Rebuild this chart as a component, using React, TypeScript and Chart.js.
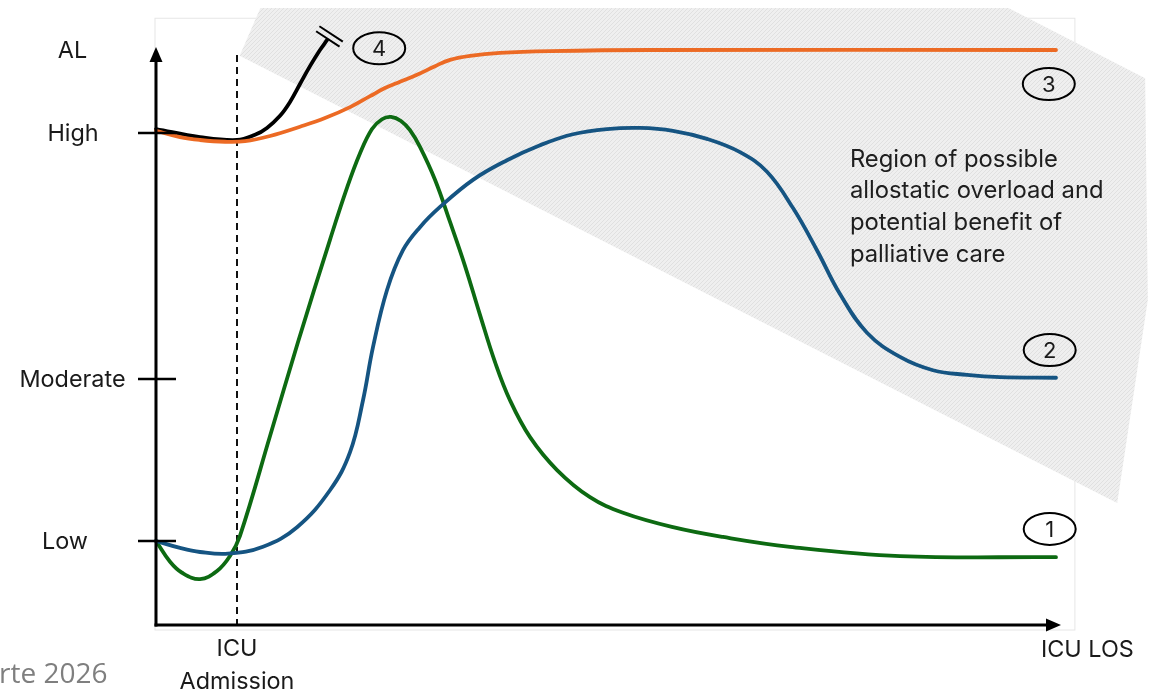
import React, { useEffect, useRef } from 'react';
import { Chart, registerables } from 'chart.js';

Chart.register(...registerables);

// ---- data (time since ICU admission in % of ICU LOS, level of allostatic load in arbitrary units) ----
const greenT = [0, 1.56, 2.89, 4.89, 6.78, 8.22, 9.33, 12.67, 15.78, 19.33, 21.22, 22.67, 24.0, 25.11, 26.11, 27.22, 28.22, 29.33, 31.0, 32.67, 34.33, 36.0, 37.67, 39.33, 41.56, 44.56, 48.22, 51.89, 57.44, 63.0, 70.44, 82.67, 100];
const greenLevel = [14.9, 11.3, 9.4, 8.3, 9.7, 12.3, 15.8, 33.1, 49.4, 67.1, 76.1, 82.1, 86.3, 88.0, 88.4, 87.7, 86.1, 83.2, 77.5, 70.2, 62.6, 54.1, 45.9, 39.3, 32.9, 27.2, 22.5, 19.8, 17.3, 15.6, 13.9, 12.3, 12.1];

const blueT = [0, 2.67, 4.89, 8.0, 11.89, 15.67, 19.33, 21.56, 23.0, 24.11, 25.67, 27.44, 29.33, 31.56, 35.22, 39.0, 42.67, 46.33, 50.11, 53.78, 57.44, 61.22, 64.89, 67.89, 70.78, 73.44, 76.0, 79.0, 82.67, 86.33, 90.11, 93.78, 100];
const blueLevel = [14.9, 13.7, 13.0, 12.7, 13.9, 17.3, 23.7, 30.3, 39.3, 48.5, 58.4, 65.3, 69.3, 72.8, 77.5, 80.9, 83.5, 85.4, 86.3, 86.5, 86.0, 84.6, 82.3, 78.9, 72.6, 65.3, 57.7, 51.0, 46.8, 44.5, 43.7, 43.3, 43.2];

const orangeT = [0, 2.67, 4.89, 7.67, 9.89, 12.67, 16.0, 18.78, 21.56, 23.78, 25.44, 27.11, 29.0, 31.0, 32.67, 34.89, 38.22, 43.78, 54.89, 100];
const orangeLevel = [86.0, 84.9, 84.4, 84.1, 84.2, 85.1, 86.7, 88.2, 90.1, 92.0, 93.4, 94.5, 95.7, 97.2, 98.3, 99.0, 99.5, 99.8, 100, 100];

const blackT = [0, 4.89, 9.0, 11.0, 12.33, 13.78, 14.89, 16.0, 17.11, 18.22, 19.0];
const blackLevel = [86.3, 84.9, 84.4, 85.3, 86.5, 88.6, 91.0, 94.1, 97.2, 100, 101.7];

// y-axis categories
const levelNames = ['Low', 'Moderate', 'High', 'AL'];
const levelValues = [14.9, 43.0, 85.6, 100];

// x-axis
const admissionT = 9.0;
const admissionLabel = ['ICU', 'Admission'];
const xEndLabel = 'ICU LOS';
const sourceNote = 'rte 2026';

// curve tags
const tagNames = ['1', '2', '3', '4'];
const tagT = [99.3, 99.3, 99.2, 24.8];
const tagLevel = [17.0, 48.0, 94.1, 100.3];

// shaded region (data units)
const regionT = [11.6, 94.7, 109.9, 110.2, 106.8, 9.3];
const regionLevel = [107.3, 107.3, 95.1, 56.7, 21.5, 99.0];
const regionText = ['Region of possible', 'allostatic overload and', 'potential benefit of', 'palliative care'];
const regionTextT = 77.1;
const regionTextLevel = [79.7, 74.3, 68.8, 63.3];

const GREEN = '#0d6a12';
const BLUE = '#155482';
const ORANGE = '#ec6a24';
const FONT = "Inter, 'Open Sans', 'Liberation Sans', sans-serif";

function makeSeries(ts: number[], ls: number[]) {
  return ts.map((t, i) => ({ x: t, y: ls[i] }));
}

function makePattern(ctx: CanvasRenderingContext2D) {
  const c = document.createElement('canvas');
  c.width = 4;
  c.height = 4;
  const p = c.getContext('2d')!;
  p.fillStyle = '#efefef';
  p.fillRect(0, 0, 4, 4);
  p.strokeStyle = '#dcdcdc';
  p.lineWidth = 0.8;
  p.beginPath();
  p.moveTo(-1, 5);
  p.lineTo(5, -1);
  p.moveTo(-1, 1);
  p.lineTo(1, -1);
  p.moveTo(3, 5);
  p.lineTo(5, 3);
  p.stroke();
  return ctx.createPattern(c, 'repeat');
}

const decorPlugin = {
  id: 'decor',
  beforeDatasetsDraw(chart: any) {
    const ctx: CanvasRenderingContext2D = chart.ctx;
    const xs = chart.scales.x;
    const ys = chart.scales.y;
    const ca = chart.chartArea;
    ctx.save();
    ctx.fillStyle = '#ffffff';
    ctx.fillRect(0, 0, chart.width, chart.height);
    // faint frame
    ctx.strokeStyle = '#e6e6e6';
    ctx.lineWidth = 1;
    ctx.strokeRect(ca.left - 1, ys.getPixelForValue(105.5), xs.getPixelForValue(102.1) - ca.left + 1, ca.bottom + 3 - ys.getPixelForValue(105.5));
    // shaded region
    ctx.beginPath();
    regionT.forEach((t, i) => {
      const px = xs.getPixelForValue(t);
      const py = ys.getPixelForValue(regionLevel[i]);
      if (i === 0) ctx.moveTo(px, py);
      else ctx.lineTo(px, py);
    });
    ctx.closePath();
    ctx.fillStyle = makePattern(ctx) || '#efefef';
    ctx.fill();
    // region text
    ctx.fillStyle = '#1e1e1e';
    ctx.font = `23.8px ${FONT}`;
    ctx.textAlign = 'left';
    ctx.textBaseline = 'alphabetic';
    regionText.forEach((line, i) => {
      ctx.fillText(line, xs.getPixelForValue(regionTextT), ys.getPixelForValue(regionTextLevel[i]));
    });
    // dashed admission line
    const ax = xs.getPixelForValue(admissionT);
    ctx.strokeStyle = '#111111';
    ctx.lineWidth = 2;
    ctx.setLineDash([7, 5]);
    ctx.beginPath();
    ctx.moveTo(ax, ca.top + 5);
    ctx.lineTo(ax, ca.bottom + 3);
    ctx.stroke();
    ctx.setLineDash([]);
    ctx.restore();
  },
  afterDatasetsDraw(chart: any) {
    const ctx: CanvasRenderingContext2D = chart.ctx;
    const xs = chart.scales.x;
    const ys = chart.scales.y;
    const ca = chart.chartArea;
    ctx.save();
    ctx.strokeStyle = '#000000';
    ctx.fillStyle = '#000000';
    // y axis
    const ax0 = ca.left;
    const ay0 = ca.bottom - 2;
    ctx.lineWidth = 3;
    ctx.beginPath();
    ctx.moveTo(ax0, ay0 + 1.5);
    ctx.lineTo(ax0, ca.top + 10);
    ctx.stroke();
    ctx.beginPath();
    ctx.moveTo(ax0, ca.top - 3);
    ctx.lineTo(ax0 - 6.5, ca.top + 12);
    ctx.lineTo(ax0 + 6.5, ca.top + 12);
    ctx.closePath();
    ctx.fill();
    // x axis
    const xEnd = ca.right + 5;
    ctx.beginPath();
    ctx.moveTo(ax0 - 1.5, ay0);
    ctx.lineTo(xEnd - 10, ay0);
    ctx.stroke();
    ctx.beginPath();
    ctx.moveTo(xEnd, ay0);
    ctx.lineTo(xEnd - 15, ay0 - 6.5);
    ctx.lineTo(xEnd - 15, ay0 + 6.5);
    ctx.closePath();
    ctx.fill();
    // ticks + labels
    ctx.lineWidth = 2.5;
    const labelCenters = [65, 72.5, 73, 72.5];
    ctx.font = `23.4px ${FONT}`;
    ctx.textAlign = 'center';
    ctx.textBaseline = 'middle';
    ctx.fillStyle = '#1a1a1a';
    levelValues.forEach((v, i) => {
      const py = ys.getPixelForValue(v);
      if (levelNames[i] !== 'AL') {
        ctx.beginPath();
        ctx.moveTo(ax0 - 18, py);
        ctx.lineTo(ax0 + 20, py);
        ctx.stroke();
      }
      ctx.fillText(levelNames[i], labelCenters[i], py + 1);
    });
    // x labels
    const adx = xs.getPixelForValue(admissionT);
    ctx.fillText(admissionLabel[0], adx, ay0 + 24);
    ctx.fillText(admissionLabel[1], adx, ay0 + 57);
    ctx.textAlign = 'left';
    ctx.fillText(xEndLabel, ca.right - 15, ay0 + 25);
    // source note
    ctx.fillStyle = '#7f7f7f';
    ctx.font = `28px 'Open Sans', sans-serif`;
    ctx.fillText(sourceNote, -1, ay0 + 50);
    // break marks at end of curve 4
    const n = blackT.length;
    const ex = xs.getPixelForValue(blackT[n - 1]);
    const ey = ys.getPixelForValue(blackLevel[n - 1]);
    const px = xs.getPixelForValue(blackT[n - 3]);
    const py = ys.getPixelForValue(blackLevel[n - 3]);
    let dx = ex - px;
    let dy = ey - py;
    const len = Math.hypot(dx, dy);
    dx /= len;
    dy /= len;
    const nx = -dy;
    const ny = dx;
    ctx.strokeStyle = '#000000';
    ctx.lineWidth = 2;
    [1.5, 7.5].forEach((o) => {
      const cx = ex + dx * o;
      const cy = ey + dy * o;
      ctx.beginPath();
      ctx.moveTo(cx - nx * 14, cy - ny * 14);
      ctx.lineTo(cx + nx * 14, cy + ny * 14);
      ctx.stroke();
    });
    // tags
    ctx.font = `22px ${FONT}`;
    ctx.textAlign = 'center';
    ctx.textBaseline = 'middle';
    tagNames.forEach((name, i) => {
      const cx = xs.getPixelForValue(tagT[i]);
      const cy = ys.getPixelForValue(tagLevel[i]);
      ctx.beginPath();
      ctx.ellipse(cx, cy, 26, 16, 0, 0, Math.PI * 2);
      ctx.lineWidth = 2;
      ctx.strokeStyle = '#000000';
      ctx.stroke();
      ctx.fillStyle = '#1a1a1a';
      ctx.fillText(name, cx, cy + 1);
    });
    ctx.restore();
  },
};

export default function App() {
  const canvasRef = useRef<HTMLCanvasElement | null>(null);

  useEffect(() => {
    if (!canvasRef.current) return;
    const common = {
      showLine: true,
      pointRadius: 0,
      borderWidth: 3.8,
      tension: 0.4,
      capBezierPoints: false,
      borderCapStyle: 'round' as const,
      borderJoinStyle: 'round' as const,
      clip: false as any,
      fill: false,
    };
    const chart = new Chart(canvasRef.current, {
      type: 'scatter',
      data: {
        datasets: [
          { ...common, label: '4', data: makeSeries(blackT, blackLevel), borderColor: '#000000', order: 4 },
          { ...common, label: '3', data: makeSeries(orangeT, orangeLevel), borderColor: ORANGE, order: 3 },
          { ...common, label: '1', data: makeSeries(greenT, greenLevel), borderColor: GREEN, order: 2 },
          { ...common, label: '2', data: makeSeries(blueT, blueLevel), borderColor: BLUE, order: 1 },
        ],
      },
      options: {
        responsive: false,
        animation: false,
        devicePixelRatio: 1,
        events: [],
        layout: { padding: { left: 156, right: 99, top: 50, bottom: 64 } },
        scales: {
          x: { type: 'linear', min: 0, max: 100, display: false },
          y: { type: 'linear', min: 0, max: 100, display: false },
        },
        plugins: {
          legend: { display: false },
          tooltip: { enabled: false },
        },
      },
      plugins: [decorPlugin],
    });
    return () => chart.destroy();
  }, []);

  return (
    <div style={{ position: 'fixed', left: 0, top: 0, width: 1155, height: 691, background: '#fff' }}>
      <canvas ref={canvasRef} width={1155} height={691} style={{ width: 1155, height: 691, display: 'block' }} />
    </div>
  );
}
